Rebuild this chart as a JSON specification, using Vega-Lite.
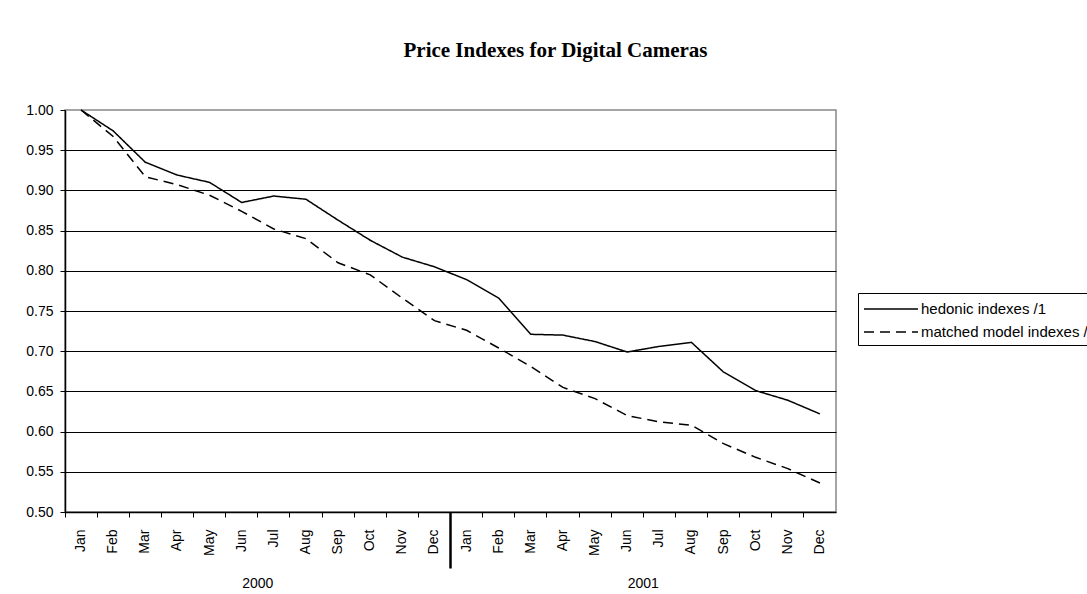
{
  "$schema": "https://vega.github.io/schema/vega-lite/v6.json",
  "width": 771,
  "height": 402,
  "autosize": {"type": "none"},
  "padding": {"left": 65, "top": 110, "right": 251, "bottom": 82},
  "background": "white",
  "title": {
    "text": "Price Indexes for Digital Cameras",
    "font": "Liberation Serif",
    "fontSize": 21,
    "fontWeight": "bold",
    "color": "#000",
    "anchor": "middle",
    "dx": 105,
    "offset": 42
  },
  "config": {
    "view": {"stroke": "#888", "strokeWidth": 1.5},
    "axis": {
      "labelFont": "Liberation Sans",
      "labelFontSize": 14,
      "labelColor": "#000",
      "domainColor": "#000",
      "tickColor": "#000",
      "gridColor": "#000",
      "titleFont": "Liberation Sans"
    }
  },
  "layer": [
    {
      "data": {
        "values": [
          {"period": "2000-01", "series": "hedonic indexes /1", "value": 1.000},
          {"period": "2000-02", "series": "hedonic indexes /1", "value": 0.974},
          {"period": "2000-03", "series": "hedonic indexes /1", "value": 0.935},
          {"period": "2000-04", "series": "hedonic indexes /1", "value": 0.919},
          {"period": "2000-05", "series": "hedonic indexes /1", "value": 0.910},
          {"period": "2000-06", "series": "hedonic indexes /1", "value": 0.885},
          {"period": "2000-07", "series": "hedonic indexes /1", "value": 0.893},
          {"period": "2000-08", "series": "hedonic indexes /1", "value": 0.889},
          {"period": "2000-09", "series": "hedonic indexes /1", "value": 0.863},
          {"period": "2000-10", "series": "hedonic indexes /1", "value": 0.838},
          {"period": "2000-11", "series": "hedonic indexes /1", "value": 0.817},
          {"period": "2000-12", "series": "hedonic indexes /1", "value": 0.805},
          {"period": "2001-01", "series": "hedonic indexes /1", "value": 0.789},
          {"period": "2001-02", "series": "hedonic indexes /1", "value": 0.766},
          {"period": "2001-03", "series": "hedonic indexes /1", "value": 0.721},
          {"period": "2001-04", "series": "hedonic indexes /1", "value": 0.720},
          {"period": "2001-05", "series": "hedonic indexes /1", "value": 0.712},
          {"period": "2001-06", "series": "hedonic indexes /1", "value": 0.699},
          {"period": "2001-07", "series": "hedonic indexes /1", "value": 0.706},
          {"period": "2001-08", "series": "hedonic indexes /1", "value": 0.711},
          {"period": "2001-09", "series": "hedonic indexes /1", "value": 0.674},
          {"period": "2001-10", "series": "hedonic indexes /1", "value": 0.651},
          {"period": "2001-11", "series": "hedonic indexes /1", "value": 0.639},
          {"period": "2001-12", "series": "hedonic indexes /1", "value": 0.622},
          {"period": "2000-01", "series": "matched model indexes /2", "value": 1.000},
          {"period": "2000-02", "series": "matched model indexes /2", "value": 0.967},
          {"period": "2000-03", "series": "matched model indexes /2", "value": 0.917},
          {"period": "2000-04", "series": "matched model indexes /2", "value": 0.907},
          {"period": "2000-05", "series": "matched model indexes /2", "value": 0.894},
          {"period": "2000-06", "series": "matched model indexes /2", "value": 0.874},
          {"period": "2000-07", "series": "matched model indexes /2", "value": 0.852},
          {"period": "2000-08", "series": "matched model indexes /2", "value": 0.840},
          {"period": "2000-09", "series": "matched model indexes /2", "value": 0.810},
          {"period": "2000-10", "series": "matched model indexes /2", "value": 0.795},
          {"period": "2000-11", "series": "matched model indexes /2", "value": 0.766},
          {"period": "2000-12", "series": "matched model indexes /2", "value": 0.738},
          {"period": "2001-01", "series": "matched model indexes /2", "value": 0.726},
          {"period": "2001-02", "series": "matched model indexes /2", "value": 0.704},
          {"period": "2001-03", "series": "matched model indexes /2", "value": 0.681},
          {"period": "2001-04", "series": "matched model indexes /2", "value": 0.655},
          {"period": "2001-05", "series": "matched model indexes /2", "value": 0.641},
          {"period": "2001-06", "series": "matched model indexes /2", "value": 0.620},
          {"period": "2001-07", "series": "matched model indexes /2", "value": 0.612},
          {"period": "2001-08", "series": "matched model indexes /2", "value": 0.608},
          {"period": "2001-09", "series": "matched model indexes /2", "value": 0.585},
          {"period": "2001-10", "series": "matched model indexes /2", "value": 0.568},
          {"period": "2001-11", "series": "matched model indexes /2", "value": 0.554},
          {"period": "2001-12", "series": "matched model indexes /2", "value": 0.536}
        ]
      },
      "mark": {"type": "line", "color": "#000", "strokeWidth": 1.5},
      "encoding": {
        "x": {
          "field": "period",
          "type": "ordinal",
          "bandPosition": 0.5,
          "scale": {"type": "band", "paddingInner": 0, "paddingOuter": 0},
          "axis": {
            "title": null,
            "bandPosition": 0,
            "labelOffset": 0,
            "labelAngle": -90,
            "labelPadding": {"expr": "datum.value === '2001-01' ? -39 : 12"},
            "tickSize": {"expr": "datum.value === '2001-01' ? 56 : 5"},
            "tickWidth": {"expr": "datum.value === '2001-01' ? 2.5 : 1"},
            "labelExpr": "['Jan','Feb','Mar','Apr','May','Jun','Jul','Aug','Sep','Oct','Nov','Dec'][toNumber(slice(datum.value, 5)) - 1]",
            "grid": false,
            "domainWidth": 1.5
          }
        },
        "y": {
          "field": "value",
          "type": "quantitative",
          "scale": {"domain": [0.5, 1.0], "nice": false, "zero": false},
          "axis": {
            "title": null,
            "values": [0.5, 0.55, 0.6, 0.65, 0.7, 0.75, 0.8, 0.85, 0.9, 0.95, 1.0],
            "format": ".2f",
            "tickSize": 5,
            "labelPadding": 7,
            "domainWidth": 1.5,
            "gridOpacity": {"expr": "datum.value >= 0.999 || datum.value <= 0.501 ? 0 : 1"},
            "gridWidth": 1
          }
        },
        "strokeDash": {
          "field": "series",
          "type": "nominal",
          "scale": {
            "domain": ["hedonic indexes /1", "matched model indexes /2"],
            "range": [[1, 0], [10, 6]]
          },
          "legend": {
            "title": null,
            "orient": "none",
            "legendX": 793,
            "legendY": 183,
            "strokeColor": "#000",
            "padding": 5,
            "symbolType": "M-1,0H4.4",
            "symbolSize": 400,
            "symbolStrokeWidth": 1.5,
            "symbolStrokeColor": "#000",
            "labelFont": "Liberation Sans",
            "labelFontSize": 15,
            "labelColor": "#000",
            "labelOffset": 36,
            "labelLimit": 400,
            "rowPadding": 4
          }
        }
      }
    },
    {
      "data": {"values": [{"year": "2000"}, {"year": "2001"}]},
      "mark": {"type": "point", "opacity": 0},
      "encoding": {
        "x": {
          "field": "year",
          "type": "ordinal",
          "scale": {"type": "band", "paddingInner": 0, "paddingOuter": 0},
          "axis": {
            "title": null,
            "orient": "bottom",
            "offset": 62,
            "domain": false,
            "ticks": false,
            "labelAngle": 0,
            "labelPadding": 2,
            "labelFontSize": 14,
            "grid": false
          }
        }
      }
    }
  ],
  "resolve": {"scale": {"x": "independent"}}
}
